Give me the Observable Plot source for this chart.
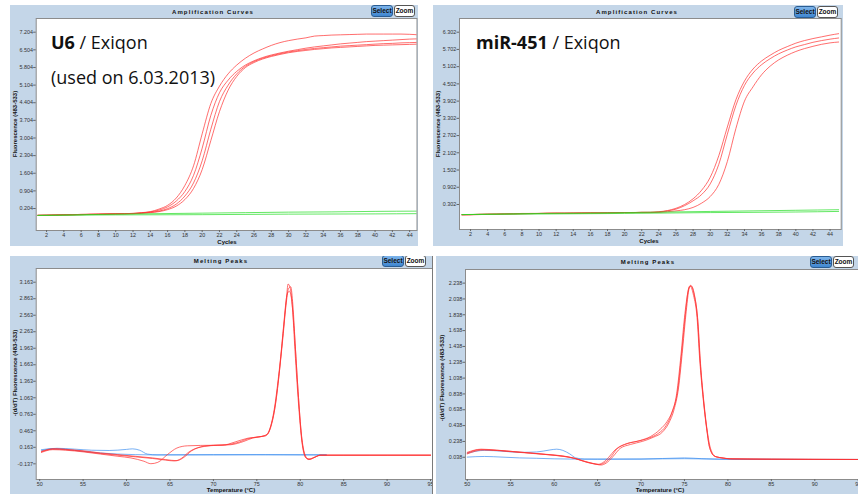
<!DOCTYPE html>
<html><head><meta charset="utf-8">
<script src="https://cdn.jsdelivr.net/npm/d3@7"></script>
<script src="https://cdn.jsdelivr.net/npm/@observablehq/plot@0.6"></script>
<style>
body{margin:0;background:#fff;}
#root{position:relative;width:858px;height:494px;background:#fff;overflow:hidden;font-family:"Liberation Sans",Arial,sans-serif;}
.frame{position:absolute;background:#c4d6e8;overflow:hidden;}
.ttl{position:absolute;font:bold 6px "Liberation Sans",Arial,sans-serif;letter-spacing:1.1px;color:#111;transform:translate(-50%,-50%);white-space:nowrap;}
.xl{position:absolute;font:bold 6px "Liberation Sans",Arial,sans-serif;color:#111;transform:translate(-50%,-50%);white-space:nowrap;line-height:1;}
.yl{position:absolute;font:bold 6px "Liberation Sans",Arial,sans-serif;color:#111;transform:translate(-50%,-50%) rotate(-90deg);white-space:nowrap;line-height:1;}
.btn{position:absolute;height:10px;border-radius:3px;font:bold 6.5px "Liberation Sans",Arial,sans-serif;line-height:10px;text-align:center;color:#111;box-sizing:content-box;overflow:hidden;}
.sel{background:linear-gradient(#7db4ea,#3f86d0);border:1px solid #2a5d93;}
.zm{background:#fff;border:1px solid #555;}
.big{position:absolute;font-family:"Open Sans",sans-serif;font-size:18px;color:#111;white-space:nowrap;line-height:1;}
</style></head>
<body><div id="root"></div>
<script>
// ---------- data ----------
const cycles = [1,2,3,4,5,6,7,8,9,10,11,12,13,14,15,16,17,18,19,20,21,22,23,24,25,26,27,28,29,30,31,32,33,34,35,36,37,38,39,40,41,42,43,44,45];
const ampXTicks = [2,4,6,8,10,12,14,16,18,20,22,24,26,28,30,32,34,36,38,40,42,44];
const meltXTicks = [50,55,60,65,70,75,80,85,90,95];

const u6AmpYTicks = [0.204,0.904,1.604,2.304,3.004,3.704,4.404,5.104,5.804,6.504,7.204];
const u6AmpA = [-0.07,-0.06,-0.05,-0.05,-0.04,-0.03,-0.03,-0.02,-0.01,0.00,0.00,0.01,0.04,0.08,0.18,0.33,0.62,1.12,1.90,3.17,4.37,5.06,5.55,5.90,6.17,6.38,6.54,6.68,6.79,6.87,6.93,6.98,7.05,7.07,7.09,7.10,7.11,7.12,7.13,7.13,7.13,7.13,7.13,7.12,7.10];
const u6AmpB = [-0.07,-0.06,-0.06,-0.05,-0.04,-0.04,-0.03,-0.02,-0.02,-0.01,0.00,0.01,0.03,0.07,0.14,0.27,0.50,0.88,1.52,2.60,3.90,4.80,5.30,5.65,5.90,6.07,6.20,6.30,6.38,6.45,6.51,6.57,6.62,6.66,6.70,6.74,6.77,6.80,6.83,6.85,6.87,6.89,6.91,6.93,6.94];
const u6AmpC = [-0.06,-0.06,-0.05,-0.04,-0.04,-0.03,-0.02,-0.02,-0.01,-0.01,0.00,0.00,0.02,0.05,0.10,0.20,0.38,0.70,1.22,2.10,3.35,4.45,5.10,5.55,5.85,6.04,6.17,6.27,6.35,6.42,6.47,6.52,6.56,6.59,6.62,6.65,6.67,6.69,6.71,6.73,6.75,6.76,6.78,6.79,6.80];
const u6AmpD = [-0.07,-0.07,-0.06,-0.05,-0.05,-0.04,-0.03,-0.03,-0.02,-0.01,-0.01,0.00,0.02,0.04,0.08,0.16,0.30,0.56,1.00,1.75,2.90,4.05,4.90,5.45,5.80,6.00,6.14,6.24,6.32,6.39,6.44,6.48,6.52,6.55,6.58,6.60,6.62,6.64,6.66,6.68,6.69,6.70,6.71,6.72,6.73];
const u6AmpNeg1 = [[1,-0.07],[5,-0.05],[10,-0.02],[15,0.00],[20,0.02],[25,0.04],[30,0.06],[35,0.07],[40,0.09],[45,0.10]];
const u6AmpNeg2 = [[1,-0.07],[10,-0.05],[20,-0.04],[30,-0.02],[40,-0.01],[45,0.00]];

const mirAmpYTicks = [0.302,0.902,1.502,2.102,2.702,3.302,3.902,4.502,5.102,5.702,6.302];
const mirAmpA = [-0.06,-0.05,-0.04,-0.04,-0.03,-0.03,-0.02,-0.02,-0.01,-0.01,0.00,0.00,0.00,0.00,0.01,0.01,0.01,0.01,0.02,0.02,0.02,0.03,0.03,0.05,0.09,0.17,0.30,0.50,0.80,1.25,2.00,3.00,3.95,4.60,5.02,5.30,5.50,5.67,5.80,5.92,6.01,6.08,6.14,6.20,6.25];
const mirAmpB = [-0.05,-0.05,-0.04,-0.03,-0.03,-0.02,-0.02,-0.01,-0.01,-0.01,0.00,0.00,0.00,0.01,0.01,0.01,0.01,0.02,0.02,0.02,0.02,0.03,0.03,0.04,0.08,0.14,0.26,0.43,0.65,1.02,1.70,2.75,3.75,4.45,4.88,5.17,5.38,5.55,5.68,5.79,5.87,5.95,6.01,6.06,6.10];
const mirAmpC = [-0.06,-0.06,-0.05,-0.04,-0.04,-0.03,-0.03,-0.02,-0.02,-0.01,-0.01,0.00,0.00,0.00,0.00,0.01,0.01,0.01,0.01,0.02,0.02,0.02,0.02,0.03,0.05,0.08,0.12,0.20,0.35,0.58,1.00,1.80,2.95,3.90,4.40,4.82,5.12,5.34,5.50,5.63,5.73,5.81,5.88,5.93,5.96];
const mirAmpNeg1 = [[1,-0.05],[5,-0.03],[10,-0.01],[15,0.00],[20,0.02],[25,0.04],[30,0.06],[35,0.08],[40,0.10],[45,0.12]];
const mirAmpNeg2 = [[1,-0.05],[10,-0.03],[20,-0.01],[30,0.02],[40,0.04],[45,0.06]];

const u6MeltYTicks = [-0.137,0.163,0.463,0.763,1.063,1.363,1.663,1.963,2.263,2.563,2.863,3.163];
const u6MeltA = [[50.2,0.07],[51.5,0.12],[53,0.11],[55,0.08],[57,0.04],[59,0.00],[60.5,-0.03],[62,-0.09],[62.8,-0.135],[63.6,-0.11],[64.7,0.03],[65.8,0.15],[67,0.19],[70,0.20],[71,0.20],[72.5,0.26],[74,0.33],[75.2,0.35],[76,0.38],[76.5,0.50],[77,0.85],[77.5,1.45],[78,2.20],[78.4,2.85],[78.6,3.13],[78.85,3.05],[79.1,2.70],[79.4,1.90],[79.8,0.95],[80.2,0.25],[80.6,-0.02],[81,-0.06],[81.6,-0.02],[82.3,0.02],[85,0.02],[90,0.02],[95,0.02]];
const u6MeltB = [[50.2,0.08],[51.5,0.13],[53,0.12],[55,0.09],[57,0.05],[59,0.02],[61,-0.01],[63,-0.04],[64.5,-0.07],[65.5,-0.085],[66.3,-0.04],[67.2,0.08],[68.5,0.17],[70,0.20],[71.5,0.21],[73,0.26],[74,0.32],[75,0.35],[76,0.37],[76.5,0.48],[77,0.80],[77.5,1.40],[78,2.15],[78.4,2.80],[78.65,3.05],[78.9,3.08],[79.15,2.75],[79.45,1.95],[79.85,0.95],[80.25,0.22],[80.7,-0.03],[81.1,-0.055],[81.7,-0.015],[82.4,0.02],[88,0.02],[95,0.02]];
const u6MeltC = [[50.2,0.09],[51.8,0.14],[53.5,0.12],[55,0.10],[57,0.06],[59,0.03],[61,0.00],[63,-0.03],[64.5,-0.06],[65.8,-0.08],[66.6,-0.02],[67.5,0.10],[69,0.18],[70.5,0.20],[72,0.21],[73.5,0.27],[74.5,0.33],[75.5,0.36],[76.2,0.40],[76.7,0.60],[77.2,1.00],[77.7,1.70],[78.1,2.40],[78.5,2.95],[78.75,3.00],[79,2.85],[79.3,2.30],[79.7,1.30],[80.1,0.45],[80.5,0.05],[80.9,-0.05],[81.5,-0.03],[82.3,0.02],[90,0.02],[95,0.02]];
const u6MeltNeg1 = [[50.2,0.10],[51.5,0.135],[53,0.125],[55,0.09],[57,0.06],[59,0.04],[61,0.03],[63,0.025],[65,0.025],[70,0.025],[75,0.027],[80,0.025],[83,0.025]];
const u6MeltNeg2 = [[50.2,0.12],[52,0.145],[54,0.13],[56,0.11],[58,0.105],[60,0.125],[60.7,0.135],[61.5,0.11],[62.4,0.04],[63.5,0.025],[70,0.03],[76,0.03],[83,0.025]];

const mirMeltYTicks = [0.038,0.238,0.438,0.638,0.838,1.038,1.238,1.438,1.638,1.838,2.038,2.238];
const mirMeltA = [[50,0.09],[51.5,0.135],[53.5,0.122],[55.4,0.105],[57.3,0.088],[59.2,0.071],[61.1,0.05],[62.3,0.025],[63.4,-0.013],[64.6,-0.046],[65.2,-0.055],[65.7,-0.038],[66.5,0.037],[67.2,0.14],[68.4,0.21],[69.9,0.25],[71.1,0.30],[72.2,0.39],[73,0.49],[73.6,0.62],[74.2,0.87],[74.7,1.38],[75.1,1.84],[75.5,2.18],[75.7,2.21],[76.1,2.10],[76.5,1.80],[76.8,1.26],[77.2,0.75],[77.6,0.37],[77.9,0.16],[78.5,0.05],[79.3,0.03],[80.3,0.018],[84,0.014],[90,0.012],[95,0.01]];
const mirMeltB = [[50,0.08],[51.8,0.13],[53.5,0.125],[55.5,0.108],[57.5,0.09],[59.5,0.068],[61.3,0.045],[62.5,0.02],[63.6,-0.02],[64.8,-0.05],[65.4,-0.06],[66,-0.035],[66.8,0.05],[67.6,0.15],[68.8,0.20],[70.2,0.24],[71.4,0.29],[72.5,0.36],[73.2,0.47],[73.8,0.64],[74.3,0.90],[74.8,1.42],[75.2,1.88],[75.6,2.19],[75.8,2.20],[76.2,2.06],[76.55,1.75],[76.85,1.22],[77.25,0.72],[77.65,0.35],[78,0.15],[78.6,0.045],[79.5,0.028],[80.5,0.016],[85,0.013],[95,0.01]];
const mirMeltC = [[50,0.10],[51.6,0.14],[53.4,0.128],[55.3,0.11],[57.2,0.092],[59.1,0.075],[61,0.055],[62.2,0.03],[63.3,-0.005],[64.5,-0.04],[65.1,-0.05],[65.6,-0.03],[66.3,0.04],[67,0.13],[68.1,0.20],[69.6,0.24],[70.9,0.28],[72,0.34],[72.9,0.44],[73.5,0.58],[74.1,0.84],[74.6,1.33],[75,1.80],[75.45,2.15],[75.65,2.20],[76.05,2.08],[76.45,1.80],[76.75,1.28],[77.15,0.78],[77.55,0.40],[77.85,0.18],[78.4,0.055],[79.2,0.032],[80.2,0.02],[85,0.014],[95,0.01]];
const mirMeltNeg1 = [[50,0.04],[52,0.048],[54,0.04],[56,0.03],[58,0.025],[60,0.018],[62,0.015],[65,0.013],[70,0.015],[75,0.02],[80,0.013],[85,0.012],[90,0.01],[95,0.01]];
const mirMeltNeg2 = [[50,0.09],[52,0.125],[54,0.115],[56,0.10],[58,0.105],[59.5,0.13],[60.3,0.14],[61,0.125],[61.8,0.08],[62.5,0.03],[63.5,0.015],[70,0.015],[75,0.03],[77,0.02],[80,0.012],[95,0.01]];

const RED = "#ff3030", GREEN = "#22dd22", BLUE = "#3d8ff0";

// ---------- builders ----------
const root = document.getElementById("root");
function fromCycles(vals, id, color){ return vals.map((v,i)=>({x:cycles[i], y:v, id, color})); }
function fromPairs(pairs, id, color){ return pairs.map(([x,y])=>({x, y, id, color})); }

function panel(c){
  const f = document.createElement("div");
  f.className = "frame";
  Object.assign(f.style,{left:c.fl+"px",top:c.ft+"px",width:c.fw+"px",height:c.fh+"px"});
  root.append(f);
  const chart = Plot.plot({
    width:c.fw, height:c.fh,
    marginLeft:c.pl-c.fl, marginTop:c.pt-c.ft, marginRight:c.fl+c.fw-c.pr, marginBottom:c.ft+c.fh-c.pb,
    x:{domain:c.xd}, y:{domain:c.yd}, color:{type:"identity"},
    style:{background:"transparent", fontSize:"5.4px", fontFamily:"'Liberation Sans',Arial,sans-serif", color:"#333", overflow:"visible"},
    marks:[
      Plot.frame({fill:"white", stroke:"#8c8c8c"}),
      Plot.axisX({ticks:c.xt, tickSize:2, tickPadding:1, label:null, tickFormat:d=>String(d), stroke:"#666"}),
      Plot.axisY({ticks:c.yt, tickSize:2.5, tickPadding:0.8, label:null, tickFormat:d=>d.toFixed(3), stroke:"#666"}),
      Plot.line(c.data,{x:"x", y:"y", z:"id", stroke:"color", strokeWidth:1, strokeOpacity:0.7, curve:"monotone-x", clip:true})
    ]
  });
  chart.style.position="absolute"; chart.style.left="0px"; chart.style.top="0px";
  f.append(chart);
  const add=(cls,txt,x,y)=>{const d=document.createElement("div");d.className=cls;d.textContent=txt;d.style.left=(x-c.fl)+"px";d.style.top=(y-c.ft)+"px";f.append(d);return d;};
  add("ttl",c.title,c.tx,c.ty);
  add("xl",c.xlabel,c.xlx,c.xly);
  add("yl",c.ylabel,c.ylx,c.yly);
  const s=add("btn sel","Select",c.bx,c.by); s.style.width="20px";
  const z=add("btn zm","Zoom",c.bx+23,c.by); z.style.width="19px";
}

panel({fl:10,ft:5,fw:408,fh:241,pl:35.7,pt:18,pr:416.5,pb:230,
  xd:[0.8,44.85], yd:[-0.669,7.748], xt:ampXTicks, yt:u6AmpYTicks,
  data:[...fromCycles(u6AmpA,"a",RED),...fromCycles(u6AmpB,"b",RED),...fromCycles(u6AmpC,"c",RED),...fromCycles(u6AmpD,"d",RED),
        ...fromPairs(u6AmpNeg1,"g1",GREEN),...fromPairs(u6AmpNeg2,"g2",GREEN)],
  title:"Amplification Curves", tx:213, ty:11.5, xlabel:"Cycles", xlx:227, xly:241.5,
  ylabel:"Fluorescence (483-533)", ylx:15, yly:124, bx:371, by:5});

panel({fl:433,ft:5,fw:410,fh:241,pl:459,pt:18,pr:840.7,pb:229,
  xd:[0.71,45.3], yd:[-0.569,6.779], xt:ampXTicks, yt:mirAmpYTicks,
  data:[...fromCycles(mirAmpA,"a",RED),...fromCycles(mirAmpB,"b",RED),...fromCycles(mirAmpC,"c",RED),
        ...fromPairs(mirAmpNeg1,"g1",GREEN),...fromPairs(mirAmpNeg2,"g2",GREEN)],
  title:"Amplification Curves", tx:637, ty:12, xlabel:"Cycles", xlx:649, xly:241,
  ylabel:"Fluorescence (483-533)", ylx:438, yly:124, bx:794, by:6});

panel({fl:10,ft:256,fw:423,fh:238,pl:35.7,pt:268,pr:433,pb:479,
  xd:[49.6,95.34], yd:[-0.422,3.412], xt:meltXTicks, yt:u6MeltYTicks,
  data:[...fromPairs(u6MeltNeg1,"b1",BLUE),...fromPairs(u6MeltNeg2,"b2",BLUE),
        ...fromPairs(u6MeltA,"a",RED),...fromPairs(u6MeltB,"b",RED),...fromPairs(u6MeltC,"c",RED)],
  title:"Melting Peaks", tx:221, ty:261, xlabel:"Temperature (°C)", xlx:231, xly:490.3,
  ylabel:"-(d/dT) Fluorescence (483-533)", ylx:15, yly:373, bx:382, by:255});

panel({fl:436,ft:256,fw:422,fh:238,pl:465,pt:269,pr:858,pb:479,
  xd:[49.8,95.03], yd:[-0.243,2.41], xt:meltXTicks, yt:mirMeltYTicks,
  data:[...fromPairs(mirMeltNeg1,"b1",BLUE),...fromPairs(mirMeltNeg2,"b2",BLUE),
        ...fromPairs(mirMeltA,"a",RED),...fromPairs(mirMeltB,"b",RED),...fromPairs(mirMeltC,"c",RED)],
  title:"Melting Peaks", tx:648, ty:262, xlabel:"Temperature (°C)", xlx:660, xly:490.3,
  ylabel:"-(d/dT) Fluorescence (483-533)", ylx:442, yly:378, bx:810, by:256});

// separator line at bottom-left crop edge
const sep=document.createElement("div");
Object.assign(sep.style,{position:"absolute",left:"432px",top:"256px",width:"1px",height:"238px",background:"#7a7a7a"});
root.append(sep);

// overlay labels
function big(html,x,y){const d=document.createElement("div");d.className="big";d.innerHTML=html;d.style.left=x+"px";d.style.top=y+"px";root.append(d);}
big('<b>U6</b> / Exiqon',51,33);
big('(used on 6.03.2013)',51,68);
big('<b>miR-451</b> / Exiqon',476,33);
</script></body></html>
